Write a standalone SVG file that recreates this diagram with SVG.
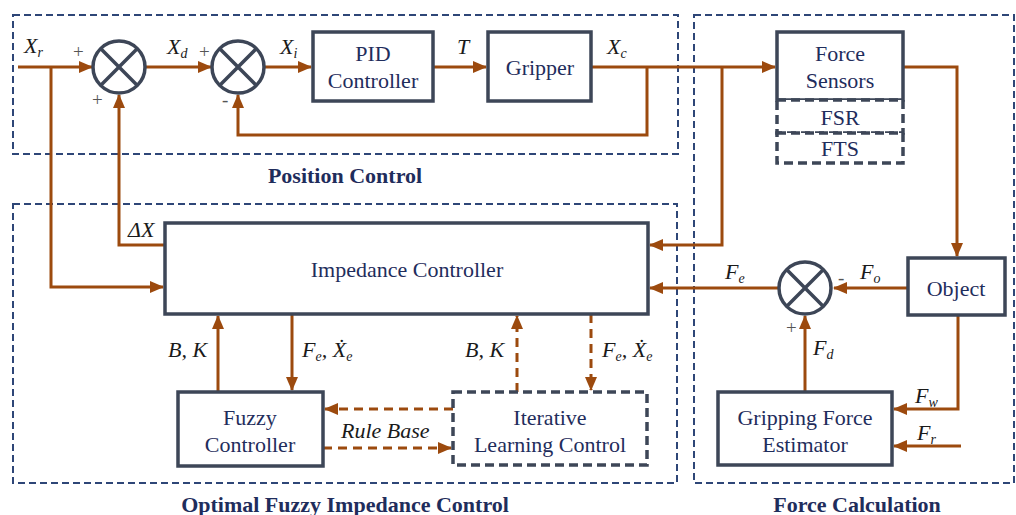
<svg xmlns="http://www.w3.org/2000/svg" width="1016" height="515" viewBox="0 0 1016 515">
<defs>
<marker id="ah" markerUnits="userSpaceOnUse" markerWidth="14" markerHeight="12" refX="13" refY="6" orient="auto">
<path d="M0,0 L14,6 L0,12 Z" fill="#9c4a0e"/>
</marker>
<style>
.grp{fill:none;stroke:#2e4677;stroke-width:2;stroke-dasharray:7,4}
.box{fill:#fff;stroke:#3d4657;stroke-width:3.5}
.dbox{fill:#fff;stroke:#3d4657;stroke-width:3.5;stroke-dasharray:9,5}
.w{fill:none;stroke:#9c4a0e;stroke-width:3}
.wd{fill:none;stroke:#9c4a0e;stroke-width:3;stroke-dasharray:9,6}
.sum{fill:#fff;stroke:#3d4657;stroke-width:3.5}
text{font-family:'Liberation Serif','Times New Roman','DejaVu Serif',serif}
.t{font-size:22px;fill:#1f2d5c;text-anchor:middle}
.b{font-size:22px;font-weight:bold;fill:#1f2d5c;text-anchor:middle}
.i{font-size:22px;font-style:italic;fill:#1a1a1a}
.s{font-size:14px}
.p{font-size:19px;fill:#555}
</style>
</defs>
<g id="groups">
<rect class="grp" x="13" y="15" width="665" height="139"/>
<rect class="grp" x="13" y="204" width="664" height="279"/>
<rect class="grp" x="694" y="15" width="320" height="468"/>
<text class="b" x="345" y="183">Position Control</text>
<text class="b" x="345" y="512">Optimal Fuzzy Impedance Control</text>
<text class="b" x="857" y="512">Force Calculation</text>
</g>
<g id="connectors">
<path class="w" d="M18,67 H92" marker-end="url(#ah)"/>
<path class="w" d="M51,67 V287 H163" marker-end="url(#ah)"/>
<path class="w" d="M165,245 H119 V95" marker-end="url(#ah)"/>
<path class="w" d="M145,67 H211" marker-end="url(#ah)"/>
<path class="w" d="M264,67 H311" marker-end="url(#ah)"/>
<path class="w" d="M433,67 H486" marker-end="url(#ah)"/>
<path class="w" d="M591,67 H775" marker-end="url(#ah)"/>
<path class="w" d="M647,67 V135 H238 V95" marker-end="url(#ah)"/>
<path class="w" d="M722,67 V245 H650" marker-end="url(#ah)"/>
<path class="w" d="M903,67 H957 V256" marker-end="url(#ah)"/>
<path class="w" d="M908,288 H834" marker-end="url(#ah)"/>
<path class="w" d="M778,288 H650" marker-end="url(#ah)"/>
<path class="w" d="M805,392 V316" marker-end="url(#ah)"/>
<path class="w" d="M958,315 V409 H894" marker-end="url(#ah)"/>
<path class="w" d="M961,446 H894" marker-end="url(#ah)"/>
<path class="w" d="M218,392 V316" marker-end="url(#ah)"/>
<path class="w" d="M292,314 V390" marker-end="url(#ah)"/>
<path class="wd" d="M517,392 V316" marker-end="url(#ah)"/>
<path class="wd" d="M591,314 V390" marker-end="url(#ah)"/>
<path class="wd" d="M453,409 H325" marker-end="url(#ah)"/>
<path class="wd" d="M323,448 H451" marker-end="url(#ah)"/>
</g>
<g id="sum1">
<circle class="sum" cx="119" cy="67" r="26"/>
<path class="sum" d="M100.6,48.6 L137.4,85.4 M137.4,48.6 L100.6,85.4"/>
</g>
<g id="sum2">
<circle class="sum" cx="238" cy="67" r="26"/>
<path class="sum" d="M219.6,48.6 L256.4,85.4 M256.4,48.6 L219.6,85.4"/>
</g>
<g id="sum3">
<circle class="sum" cx="805" cy="288" r="26"/>
<path class="sum" d="M786.6,269.6 L823.4,306.4 M823.4,269.6 L786.6,306.4"/>
</g>
<g id="pid">
<rect class="box" x="313" y="32" width="120" height="69"/>
<text class="t" x="373" y="61">PID</text>
<text class="t" x="373" y="88">Controller</text>
</g>
<g id="gripper">
<rect class="box" x="488" y="32" width="103" height="69"/>
<text class="t" x="540" y="75">Gripper</text>
</g>
<g id="forcesensors">
<rect class="box" x="777" y="32" width="126" height="68"/>
<text class="t" x="840" y="61">Force</text>
<text class="t" x="840" y="88">Sensors</text>
</g>
<g id="fsr">
<rect class="dbox" x="777" y="100" width="126" height="33"/>
<text class="t" x="840" y="125">FSR</text>
</g>
<g id="fts">
<rect class="dbox" x="777" y="133" width="126" height="30"/>
<text class="t" x="840" y="156">FTS</text>
</g>
<g id="impedance">
<rect class="box" x="165" y="223" width="483" height="91"/>
<text class="t" x="407" y="277">Impedance Controller</text>
</g>
<g id="object">
<rect class="box" x="908" y="258" width="97" height="57"/>
<text class="t" x="956" y="296">Object</text>
</g>
<g id="fuzzy">
<rect class="box" x="178" y="392" width="145" height="74"/>
<text class="t" x="250" y="425">Fuzzy</text>
<text class="t" x="250" y="452">Controller</text>
</g>
<g id="ilc">
<rect class="dbox" x="453" y="392" width="194" height="73"/>
<text class="t" x="550" y="425">Iterative</text>
<text class="t" x="550" y="452">Learning Control</text>
</g>
<g id="estimator">
<rect class="box" x="718" y="392" width="174" height="73"/>
<text class="t" x="805" y="425">Gripping Force</text>
<text class="t" x="805" y="452">Estimator</text>
</g>
<g id="labels">
<text class="i" x="24" y="53">X<tspan class="s" dy="4">r</tspan></text>
<text class="p" x="73" y="58">+</text>
<text class="p" x="92" y="106">+</text>
<text class="i" x="167" y="54">X<tspan class="s" dy="4">d</tspan></text>
<text class="p" x="199" y="58">+</text>
<text class="p" x="222" y="106">-</text>
<text class="i" x="280" y="54">X<tspan class="s" dy="4">i</tspan></text>
<text class="i" x="457" y="54">T</text>
<text class="i" x="607" y="54">X<tspan class="s" dy="4">c</tspan></text>
<text class="i" x="128" y="237">ΔX</text>
<text class="i" x="168" y="357">B, K</text>
<text class="i" x="302" y="357">F<tspan class="s" dy="4">e</tspan><tspan dy="-4">, Ẋ</tspan><tspan class="s" dy="4">e</tspan></text>
<text class="i" x="465" y="357">B, K</text>
<text class="i" x="602" y="357">F<tspan class="s" dy="4">e</tspan><tspan dy="-4">, Ẋ</tspan><tspan class="s" dy="4">e</tspan></text>
<text class="i" x="341" y="438">Rule Base</text>
<text class="i" x="725" y="279">F<tspan class="s" dy="4">e</tspan></text>
<text class="p" x="838" y="284">-</text>
<text class="i" x="860" y="279">F<tspan class="s" dy="4">o</tspan></text>
<text class="p" x="786" y="334">+</text>
<text class="i" x="813" y="355">F<tspan class="s" dy="4">d</tspan></text>
<text class="i" x="915" y="403">F<tspan class="s" dy="4">w</tspan></text>
<text class="i" x="917" y="440">F<tspan class="s" dy="4">r</tspan></text>
</g>
</svg>
